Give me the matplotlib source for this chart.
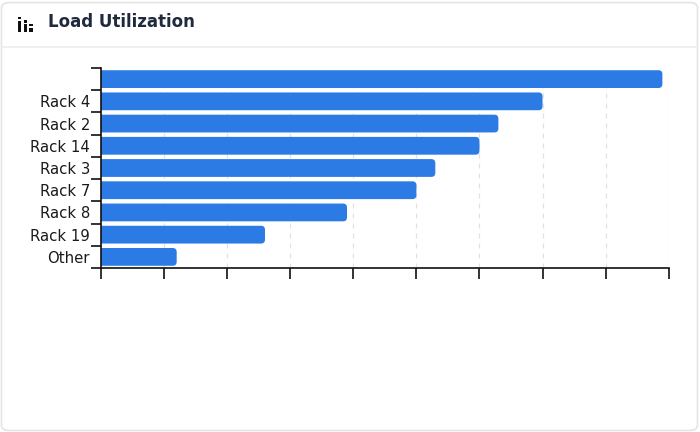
import matplotlib
matplotlib.use("Agg")
import matplotlib.pyplot as plt
from matplotlib.patches import FancyBboxPatch, Rectangle
from matplotlib.lines import Line2D

# data (top to bottom)
racks = ["", "Rack 4", "Rack 2", "Rack 14", "Rack 3", "Rack 7", "Rack 8", "Rack 19", "Other"]
load = [89, 70, 63, 60, 53, 50, 39, 26, 12]
x_ticks = [0, 10, 20, 30, 40, 50, 60, 70, 80, 90]

W, H = 700, 432
BAR_COLOR = "#2c7be5"

fig = plt.figure(figsize=(W / 100, H / 100), dpi=100)
fig.patch.set_facecolor("white")

# card frame + header
card = FancyBboxPatch((1.5 / W, 1.5 / H), (W - 4) / W, (H - 4) / H,
                      boxstyle="round,pad=0,rounding_size=0.012",
                      transform=fig.transFigure, facecolor="none",
                      edgecolor="#e4e4e4", linewidth=1.2, zorder=-5)
fig.patches.append(card)
fig.lines.append(Line2D([2 / W, (W - 3) / W], [1 - 47 / H, 1 - 47 / H],
                        transform=fig.transFigure, color="#ececec", linewidth=1.2))

# little bar-chart icon next to the title
icon_blocks = [(18, 17, 3.4, 2.4), (18, 20.6, 3.4, 10.9),
               (23.6, 20.2, 3.4, 2.4), (23.6, 23.8, 3.4, 7.7),
               (29.2, 24, 3.4, 2.4), (29.2, 27.6, 3.4, 3.9)]
for bx, by, bw, bh in icon_blocks:
    fig.patches.append(Rectangle((bx / W, 1 - (by + bh) / H), bw / W, bh / H,
                                 transform=fig.transFigure, facecolor="#111111",
                                 edgecolor="none"))

fig.text(48 / W, 1 - 22 / H, "Load Utilization", fontsize=12, fontweight="bold",
         color="#1f2a3c", va="center", ha="left")

ax_left, ax_right, ax_top, ax_bottom = 101, 668.7, 68, 268
ax = fig.add_axes([ax_left / W, 1 - ax_bottom / H, (ax_right - ax_left) / W,
                   (ax_bottom - ax_top) / H])
ax.set_facecolor("none")

pos = list(range(len(racks)))
bars = ax.barh(pos, load, height=0.8, color=BAR_COLOR)

ax.set_xlim(x_ticks[0], x_ticks[-1])
ax.set_ylim(len(racks) - 0.5, -0.5)

# swap plain rectangles for rounded ones
px_x = (ax_right - ax_left) / (x_ticks[-1] - x_ticks[0])
px_y = (ax_bottom - ax_top) / len(racks)
radius = 4.0
for rect in bars:
    x0, y0 = rect.get_x(), rect.get_y()
    w, h = rect.get_width(), rect.get_height()
    rect.set_visible(False)
    r = radius / px_x
    p = FancyBboxPatch((x0 - r * 2, y0), w + r * 2, h,
                       boxstyle="round,pad=0,rounding_size=%f" % r,
                       mutation_aspect=px_x / px_y,
                       facecolor=BAR_COLOR, edgecolor="none", zorder=2)
    ax.add_patch(p)

ax.set_xticks(x_ticks)
ax.set_xticklabels([])
ax.set_yticks(pos)
ax.set_yticklabels(racks, fontsize=10.7, color="#1a1a1a")
ax.set_yticks([p - 0.5 for p in pos] + [len(racks) - 0.5], minor=True)
ax.tick_params(axis="y", which="major", length=0, pad=8)
ax.tick_params(axis="y", which="minor", length=7, width=1.2, color="#111111")
ax.tick_params(axis="x", which="major", length=8, width=1.2, color="#111111")

ax.grid(axis="x", color="#e2e2e2", linestyle=(0, (4, 4)), linewidth=0.9, zorder=0)
ax.set_axisbelow(True)

for side in ["top", "right"]:
    ax.spines[side].set_visible(False)
for side in ["left", "bottom"]:
    ax.spines[side].set_linewidth(1.2)
    ax.spines[side].set_color("#111111")
    ax.spines[side].set_zorder(3)

fig.savefig("out.png", dpi=100, facecolor=fig.get_facecolor())
